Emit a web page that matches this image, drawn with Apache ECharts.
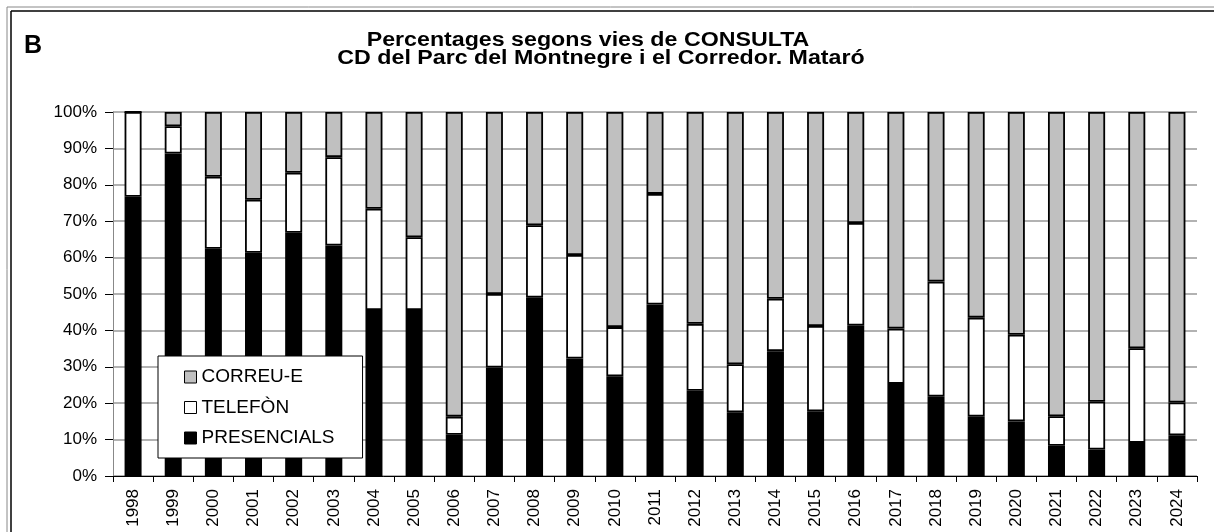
<!DOCTYPE html>
<html lang="ca">
	<head>
		<meta charset="UTF-8">
		<title>Percentages segons vies de CONSULTA</title>
		<script src="https://cdn.jsdelivr.net/npm/echarts@6/dist/echarts.min.js"></script>
		<style>
			html, body { margin: 0; padding: 0; background: #fff; }
			#chart { width: 1214px; height: 532px; }
		</style>
	</head>
	<body>
		<div id="chart"></div>
		<script>
			// dades
			const years = ['1998', '1999', '2000', '2001', '2002', '2003', '2004', '2005', '2006', '2007',
				'2008', '2009', '2010', '2011', '2012', '2013', '2014', '2015', '2016', '2017',
				'2018', '2019', '2020', '2021', '2022', '2023', '2024'];
			const presencials = [76.7, 88.6, 62.4, 61.3, 66.8, 63.3, 45.6, 45.6, 11.3, 29.8,
				49.0, 32.3, 27.4, 47.1, 23.4, 17.5, 34.3, 17.8, 41.3, 25.3,
				21.8, 16.3, 15.0, 8.3, 7.3, 9.1, 11.2];
			const telefon = [23.3, 7.5, 19.8, 14.6, 16.5, 24.3, 27.8, 20.0, 5.0, 20.2,
				19.9, 28.4, 13.5, 30.4, 18.4, 13.2, 14.4, 23.4, 28.2, 15.2,
				31.6, 27.2, 23.8, 8.1, 13.1, 26.0, 9.0];
			const correu = [0, 3.9, 17.8, 24.1, 16.7, 12.4, 26.6, 34.4, 83.7, 50.0,
				31.1, 39.3, 59.1, 22.5, 58.2, 69.3, 51.3, 58.8, 30.5, 59.5,
				46.6, 56.5, 61.2, 83.6, 79.6, 64.9, 79.8];
			const yTicks = [0, 10, 20, 30, 40, 50, 60, 70, 80, 90, 100];
			const titleLines = ['Percentages segons vies de CONSULTA', 'CD del Parc del Montnegre i el Corredor. Mataró'];

			const font = 'Liberation Sans, Arial, sans-serif';
			const chart = echarts.init(document.getElementById('chart'));

			const barStyle = function (color) {
				return { color: color, borderColor: '#000', borderWidth: 1.8 };
			};

			// títol: text una mica eixamplat com a l'original
			const titleText = function (txt, x, y) {
				return {
					type: 'text', x: x, y: y, scaleX: 1.16,
					style: {
						text: txt, font: 'bold 20px ' + font, fill: '#000',
						textAlign: 'center', textVerticalAlign: 'middle',
						align: 'center', verticalAlign: 'middle'
					}
				};
			};

			chart.setOption({
				animation: false,
				textStyle: { fontFamily: font },
				graphic: [
					{ type: 'text', left: 24, top: 34, style: { text: 'B', font: 'bold 25px ' + font, fill: '#000' } },
					titleText(titleLines[0], 588, 40),
					titleText(titleLines[1], 601, 58),
					// marc (només superior i esquerre visibles)
					{ type: 'line', shape: { x1: 7, y1: 7, x2: 1214, y2: 7 }, style: { stroke: '#888', lineWidth: 1 } },
					{ type: 'line', shape: { x1: 7, y1: 7, x2: 7, y2: 532 }, style: { stroke: '#888', lineWidth: 1 } },
					{ type: 'line', shape: { x1: 11, y1: 11, x2: 1214, y2: 11 }, style: { stroke: '#000', lineWidth: 1.5 } },
					{ type: 'line', shape: { x1: 11, y1: 11, x2: 11, y2: 532 }, style: { stroke: '#000', lineWidth: 1.5 } }
				],
				grid: { left: 113, right: 17, top: 112, bottom: 56, containLabel: false },
				legend: {
					orient: 'vertical',
					left: 158,
					top: 356,
					data: ['CORREU-E', 'TELEFÒN', 'PRESENCIALS'],
					icon: 'rect',
					itemWidth: 12,
					itemHeight: 12,
					itemGap: 10.5,
					padding: [11, 28, 10, 26],
					backgroundColor: '#fff',
					borderColor: '#000',
					borderWidth: 1,
					itemStyle: { borderWidth: 1 },
					textStyle: { fontSize: 19, color: '#000', lineHeight: 20, fontFamily: font }
				},
				xAxis: {
					type: 'category',
					data: years,
					axisLine: { lineStyle: { color: '#000', width: 1 } },
					axisTick: { show: true, length: 6, lineStyle: { color: '#000' } },
					axisLabel: { rotate: 90, fontSize: 17, color: '#000', margin: 13 }
				},
				yAxis: {
					type: 'value',
					min: yTicks[0],
					max: yTicks[yTicks.length - 1],
					interval: 10,
					axisLine: { show: true, lineStyle: { color: '#888' } },
					axisTick: { show: true, length: 8, lineStyle: { color: '#000' } },
					axisLabel: { formatter: '{value}%', fontSize: 17, color: '#000', margin: 16 },
					splitLine: { show: true, lineStyle: { color: '#999', width: 1.5 } }
				},
				series: [
					{ name: 'PRESENCIALS', type: 'bar', stack: 'total', barWidth: 17, data: presencials, itemStyle: barStyle('#000') },
					{ name: 'TELEFÒN', type: 'bar', stack: 'total', barWidth: 17, data: telefon, itemStyle: barStyle('#fff') },
					{ name: 'CORREU-E', type: 'bar', stack: 'total', barWidth: 17, data: correu, itemStyle: barStyle('#c0c0c0') }
				]
			});
		</script>
	</body>
</html>
